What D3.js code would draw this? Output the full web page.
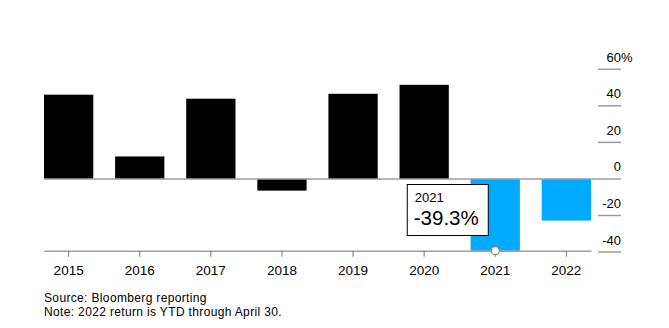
<!DOCTYPE html>
<html>
<head>
<meta charset="utf-8">
<script src="https://cdn.jsdelivr.net/npm/d3@7"></script>
<style>
  body { margin: 0; background: #fff; }
  svg text { font-family: "Liberation Sans", Arial, Helvetica, sans-serif; fill: #000; }
</style>
</head>
<body>
<div id="chart"></div>
<script>
// annual returns (%)
const years = ["2015", "2016", "2017", "2018", "2019", "2020", "2021", "2022"]
const returns = [46.1, 12.3, 43.9, -6.4, 46.6, 51.5, -39.3, -22.8]
const yTicks = [-40, -20, 0, 20, 40, 60]
const highlightYear = "2021"
const blueFromYear = 2021
const notes = ["Source: Bloomberg reporting", "Note: 2022 return is YTD through April 30."]

const data = years.map((year, i) => ({ year, value: returns[i] }))

const W = 669
const H = 328
const PLOT = { LEFT: 44, RIGHT: 591, TOP: 69.3, BOTTOM: 252 }
const TICK = { X0: 598, X1: 621 }
const GRAY = "#9c9c9c"
const BLUE = "#00aaff"

const svg = d3.select("#chart")
  .append("svg")
  .attr("width", W)
  .attr("height", H)

const x = d3.scaleBand()
  .domain(years)
  .range([PLOT.LEFT, PLOT.RIGHT])
  .paddingInner(0.307)
  .paddingOuter(0)

const y = d3.scaleLinear()
  .domain([d3.min(yTicks), d3.max(yTicks)])
  .range([PLOT.BOTTOM, PLOT.TOP])

// bars
svg.append("g")
  .selectAll("rect")
  .data(data)
  .join("rect")
  .attr("x", d => x(d.year))
  .attr("width", x.bandwidth())
  .attr("y", d => y(Math.max(0, d.value)))
  .attr("height", d => Math.abs(y(d.value) - y(0)))
  .attr("fill", d => +d.year >= blueFromYear ? BLUE : "#000")

// zero line runs across to the right axis
svg.append("line")
  .attr("x1", PLOT.LEFT)
  .attr("x2", TICK.X1)
  .attr("y1", y(0))
  .attr("y2", y(0))
  .attr("stroke", GRAY)
  .attr("stroke-width", 1.5)

// right axis: short tick segments + labels
const yAxis = svg.append("g")
yAxis.selectAll("line")
  .data(yTicks.filter(t => t !== 0))
  .join("line")
  .attr("x1", TICK.X0)
  .attr("x2", TICK.X1)
  .attr("y1", d => y(d))
  .attr("y2", d => y(d))
  .attr("stroke", GRAY)
  .attr("stroke-width", 1.5)

yAxis.selectAll("text")
  .data(yTicks)
  .join("text")
  .attr("x", TICK.X1)
  .attr("y", d => y(d) - 7.5)
  .attr("text-anchor", "end")
  .attr("font-size", "13px")
  .text(d => d)

yAxis.append("text")
  .attr("x", TICK.X1)
  .attr("y", y(d3.max(yTicks)) - 7.5)
  .attr("font-size", "13px")
  .text("%")

// bottom axis sits at the lowest return
const baseY = y(d3.min(returns))
const xAxis = svg.append("g")
  .attr("transform", `translate(0, ${baseY})`)
  .call(d3.axisBottom(x).tickSize(6).tickPadding(9).tickSizeOuter(0))

xAxis.select(".domain")
  .attr("stroke", GRAY)
  .attr("stroke-width", 1.5)
xAxis.selectAll(".tick line")
  .attr("stroke", "#777")
xAxis.selectAll(".tick text")
  .attr("font-size", "13.5px")
  .attr("font-family", "Liberation Sans, Arial, sans-serif")
  .attr("fill", "#000")

// highlight marker + label box
const hi = data.find(d => d.year === highlightYear)
const hx = x(hi.year) + x.bandwidth() / 2

svg.append("circle")
  .attr("cx", hx)
  .attr("cy", baseY)
  .attr("r", 4)
  .attr("fill", "#fff")
  .attr("stroke", "#888")
  .attr("stroke-width", 1.2)

const box = svg.append("g")
  .attr("transform", `translate(${hx - 88.5}, 184)`)

box.append("rect")
  .attr("x", 0.5)
  .attr("y", 0.5)
  .attr("width", 81)
  .attr("height", 51)
  .attr("fill", "#fff")
  .attr("stroke", "#000")
  .attr("stroke-width", 1)

box.append("text")
  .attr("x", 8)
  .attr("y", 18)
  .attr("font-size", "13px")
  .text(hi.year)

box.append("text")
  .attr("x", 7)
  .attr("y", 41)
  .attr("font-size", "20.5px")
  .text(`${hi.value.toFixed(1)}%`)

// footnotes
svg.append("g")
  .selectAll("text")
  .data(notes)
  .join("text")
  .attr("x", PLOT.LEFT)
  .attr("y", (d, i) => 302 + i * 14)
  .attr("font-size", "12px")
  .attr("letter-spacing", "0.35px")
  .text(d => d)
</script>
</body>
</html>
